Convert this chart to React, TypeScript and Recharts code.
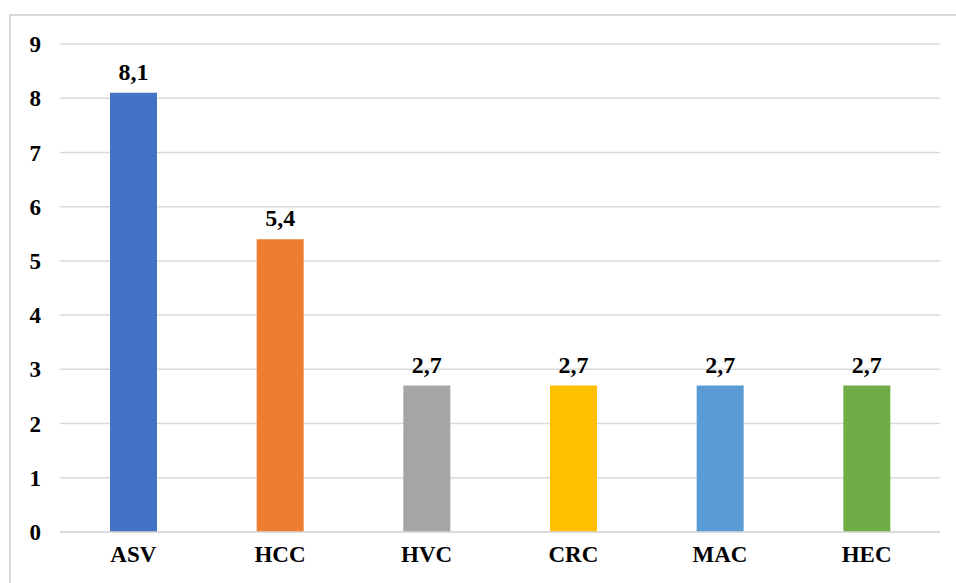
import { BarChart, Bar, XAxis, YAxis, CartesianGrid, Cell, LabelList } from "recharts";

const categories = ["ASV", "HCC", "HVC", "CRC", "MAC", "HEC"];
const values = [8.1, 5.4, 2.7, 2.7, 2.7, 2.7];
const colors = ["#4472C4", "#ED7D31", "#A5A5A5", "#FFC000", "#5B9BD5", "#70AD47"];
const yTicks = [0, 1, 2, 3, 4, 5, 6, 7, 8, 9];

const font = "'Liberation Serif', 'Times New Roman', serif";

export default function App() {
  const data = categories.map((name, i) => ({ name, value: values[i] }));

  return (
    <div
      style={{
        position: "absolute",
        left: 9,
        top: 14,
        width: 947,
        height: 569,
        borderTop: "2px solid #d9d9d9",
        borderLeft: "2px solid #d9d9d9",
        background: "#fff",
      }}
    >
      <BarChart
        width={945}
        height={567}
        data={data}
        margin={{ top: 28, right: 16, left: 0, bottom: 0 }}
      >
        <CartesianGrid vertical={false} stroke="#d9d9d9" strokeWidth={1.5} />
        <XAxis
          dataKey="name"
          height={51}
          tickLine={false}
          axisLine={{ stroke: "#d9d9d9", strokeWidth: 1.5 }}
          tickMargin={8}
          tick={{ fontSize: 23, fontWeight: "bold", fill: "#000", fontFamily: font }}
        />
        <YAxis
          width={49}
          domain={[0, 9]}
          ticks={yTicks}
          interval={0}
          tickLine={false}
          axisLine={false}
          tickMargin={13}
          tick={{ fontSize: 23, fontWeight: "bold", fill: "#000", fontFamily: font }}
        />
        <Bar dataKey="value" barSize={47} isAnimationActive={false}>
          {data.map((d, i) => (
            <Cell key={d.name} fill={colors[i]} />
          ))}
          <LabelList
            dataKey="value"
            position="top"
            offset={13}
            formatter={(v: number) => String(v).replace(".", ",")}
            style={{ fontSize: 24, fontWeight: "bold", fill: "#000", fontFamily: font }}
          />
        </Bar>
      </BarChart>
    </div>
  );
}
